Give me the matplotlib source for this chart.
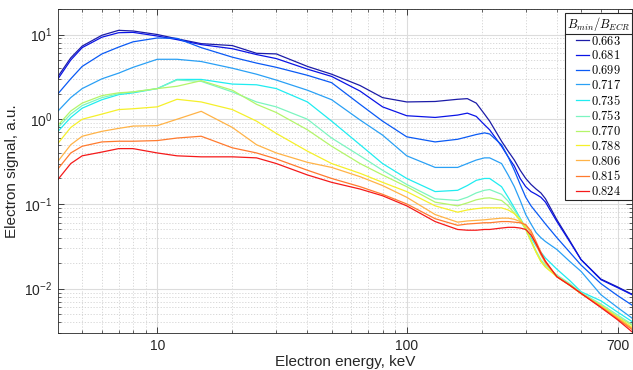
import numpy as np
import matplotlib
matplotlib.use('Agg')
import matplotlib.pyplot as plt
from matplotlib.font_manager import FontProperties
from matplotlib.lines import Line2D
from matplotlib.ticker import FixedLocator, NullFormatter, LogLocator

plt.rcParams['font.family'] = ['Liberation Sans', 'DejaVu Sans']
plt.rcParams['mathtext.fontset'] = 'custom'
plt.rcParams['mathtext.rm'] = 'Liberation Sans'
plt.rcParams['mathtext.it'] = 'Liberation Sans:italic'

# energy grid, keV
energy = [4, 4.5, 5, 6, 7, 8, 10, 12, 15, 20, 25, 30, 40, 50, 65, 80, 100, 130,
          160, 175, 190, 205, 215, 240, 255, 270, 285, 300, 315, 330, 345, 360,
          400, 450, 500, 600, 700, 800]

b_ratio = ['0.663', '0.681', '0.699', '0.717', '0.735', '0.753',
           '0.770', '0.788', '0.806', '0.815', '0.824']

s_0663 = [3.2, 5.3, 7.3, 9.8, 11.2, 11.0, 10.0, 8.9, 7.8, 7.4, 6.0, 5.9, 4.2, 3.4, 2.5, 1.8, 1.6, 1.62,
          1.72, 1.75, 1.55, 1.15, 0.95, 0.55, 0.42, 0.33, 0.25, 0.2, 0.17, 0.15, 0.135, 0.115,
          0.065, 0.037, 0.022, 0.013, 0.0105, 0.0086]
s_0681 = [3.0, 5.0, 7.0, 9.3, 10.5, 10.6, 9.6, 8.7, 7.6, 6.8, 5.8, 5.2, 3.9, 3.2, 2.15, 1.4, 1.1, 1.05,
          1.12, 1.18, 1.08, 0.86, 0.75, 0.48, 0.36, 0.28, 0.2, 0.16, 0.14, 0.13, 0.12, 0.105,
          0.062, 0.036, 0.022, 0.0128, 0.0103, 0.0085]
s_0699 = [2.0, 3.0, 4.2, 5.9, 7.1, 8.2, 9.1, 9.0, 7.0, 5.4, 4.6, 4.1, 3.3, 2.7, 1.5, 0.95, 0.62, 0.54,
          0.58, 0.62, 0.66, 0.69, 0.67, 0.5, 0.36, 0.25, 0.17, 0.12, 0.095, 0.08, 0.068, 0.058,
          0.04, 0.027, 0.019, 0.0115, 0.0083, 0.0064]
s_0717 = [1.25, 1.8, 2.3, 3.0, 3.5, 4.1, 5.1, 5.1, 4.8, 4.0, 3.4, 2.9, 2.2, 1.7, 0.98, 0.65, 0.37, 0.27,
          0.27, 0.3, 0.33, 0.35, 0.35, 0.3, 0.22, 0.16, 0.11, 0.075, 0.058, 0.046, 0.04, 0.036,
          0.029, 0.021, 0.016, 0.0085, 0.006, 0.0045]
s_0735 = [0.72, 1.05, 1.35, 1.7, 1.95, 2.05, 2.3, 2.95, 2.95, 2.6, 2.55, 2.3, 1.6, 0.95, 0.5, 0.3, 0.2, 0.14,
          0.145, 0.165, 0.19, 0.2, 0.2, 0.16, 0.12, 0.09, 0.068, 0.052, 0.04, 0.032, 0.027, 0.023,
          0.017, 0.0125, 0.0092, 0.0072, 0.0053, 0.0041]
s_0753 = [0.8, 1.15, 1.45, 1.8, 2.0, 2.1, 2.3, 2.9, 2.8, 2.1, 1.6, 1.4, 1.0, 0.6, 0.37, 0.25, 0.17, 0.115,
          0.11, 0.12, 0.135, 0.145, 0.148, 0.13, 0.108, 0.085, 0.066, 0.05, 0.037, 0.028, 0.022, 0.019,
          0.0145, 0.0115, 0.009, 0.0066, 0.0049, 0.0038]
s_0770 = [0.85, 1.25, 1.55, 1.9, 2.05, 2.1, 2.3, 2.45, 2.85, 2.2, 1.5, 1.2, 0.75, 0.48, 0.3, 0.22, 0.16, 0.105,
          0.095, 0.103, 0.112, 0.117, 0.118, 0.11, 0.095, 0.078, 0.063, 0.05, 0.036, 0.027, 0.021, 0.018,
          0.014, 0.0112, 0.0088, 0.0064, 0.0047, 0.0037]
s_0788 = [0.52, 0.8, 1.0, 1.15, 1.3, 1.33, 1.4, 1.72, 1.6, 1.3, 0.95, 0.68, 0.42, 0.3, 0.23, 0.18, 0.14, 0.095,
          0.08, 0.085, 0.088, 0.09, 0.09, 0.09, 0.085, 0.077, 0.066, 0.052, 0.037, 0.027, 0.021, 0.018,
          0.0138, 0.011, 0.0087, 0.0063, 0.0046, 0.0035]
s_0806 = [0.32, 0.5, 0.63, 0.72, 0.78, 0.83, 0.84, 1.0, 1.24, 0.8, 0.5, 0.4, 0.31, 0.27, 0.21, 0.165, 0.12, 0.075,
          0.061, 0.063, 0.064, 0.065, 0.066, 0.068, 0.068, 0.066, 0.062, 0.056, 0.045, 0.033, 0.025, 0.02,
          0.014, 0.011, 0.0088, 0.0062, 0.0045, 0.0034]
s_0815 = [0.26, 0.4, 0.48, 0.54, 0.55, 0.55, 0.56, 0.6, 0.63, 0.46, 0.4, 0.34, 0.25, 0.2, 0.16, 0.13, 0.1, 0.067,
          0.056, 0.058, 0.059, 0.06, 0.06, 0.062, 0.062, 0.061, 0.06, 0.057, 0.048, 0.036, 0.027, 0.021,
          0.0138, 0.011, 0.0088, 0.0061, 0.0044, 0.0033]
s_0824 = [0.195, 0.3, 0.37, 0.41, 0.45, 0.45, 0.4, 0.37, 0.36, 0.36, 0.35, 0.3, 0.22, 0.18, 0.15, 0.125, 0.095, 0.062,
          0.05, 0.049, 0.049, 0.05, 0.05, 0.052, 0.053, 0.053, 0.052, 0.05, 0.043, 0.034, 0.026, 0.021,
          0.0138, 0.011, 0.0088, 0.006, 0.0043, 0.0031]

signals = [s_0663, s_0681, s_0699, s_0717, s_0735, s_0753, s_0770, s_0788, s_0806, s_0815, s_0824]

colors = ['#1c1ca8', '#0a14e6', '#0a5af5', '#2aa0f5', '#20ecf0', '#7cf5c0',
          '#b4f56a', '#f5f02a', '#ffb347', '#ff7a2e', '#f51a1a']

fig = plt.figure(figsize=(6.33, 3.70), dpi=100)
ax = fig.add_axes([58/633, 1-333/370, 574/633, 324/370])

for lab, sig, c in zip(b_ratio, signals, colors):
    ax.plot(energy, sig, color=c, lw=0.9, label='$' + lab + '$')

ax.set_xscale('log')
ax.set_yscale('log')
ax.set_xlim(4, 800)
ax.set_ylim(0.003, 20)

ax.xaxis.set_major_locator(FixedLocator([10, 100, 700]))
ax.set_xticklabels(['10', '100', '700'])
minor_x = [5, 6, 7, 8, 9] + [k * 10 for k in range(2, 10)] + [200, 300, 400, 500, 600, 800]
ax.xaxis.set_minor_locator(FixedLocator(minor_x))
ax.xaxis.set_minor_formatter(NullFormatter())

ax.yaxis.set_major_locator(FixedLocator([1e-2, 1e-1, 1e0, 1e1]))
ax.set_yticklabels([r'$\mathregular{10^{-2}}$', r'$\mathregular{10^{-1}}$',
                    r'$\mathregular{10^{0}}$', r'$\mathregular{10^{1}}$'])
ax.yaxis.set_minor_locator(LogLocator(base=10, subs=np.arange(2, 10), numticks=20))
ax.yaxis.set_minor_formatter(NullFormatter())

ax.grid(True, which='major', color='#dcdcdc', lw=0.8, ls='-')
ax.grid(True, which='minor', color='#d2d2d2', lw=0.6, ls=(0, (1.5, 2)))
ax.set_axisbelow(True)

ax.tick_params(which='both', direction='in', top=True, right=True, color='#262626',
               labelsize=10, labelcolor='#262626')
ax.tick_params(which='major', length=4, width=0.6, pad=4)
ax.tick_params(which='minor', length=2.2, width=0.5)
for s in ax.spines.values():
    s.set_color('#262626')
    s.set_linewidth(0.6)

ax.set_xlabel('Electron energy, keV', fontsize=11, color='#262626', labelpad=2)
ax.set_ylabel('Electron signal, a.u.', fontsize=11, color='#262626', labelpad=4)

lp = FontProperties(family='DejaVu Serif', size=9, math_fontfamily='cm')
leg = ax.legend(loc='upper right', bbox_to_anchor=(1.0, 0.988), borderaxespad=0,
                prop=lp, fancybox=False, edgecolor='#262626', framealpha=1,
                handlelength=1.1, handletextpad=0.15, labelspacing=0.14,
                borderpad=0.15)
leg.set_title(r'$B_{min}/B_{ECR}$', prop=lp)
leg.get_frame().set_linewidth(0.8)

# separator line below the legend title
fig.canvas.draw()
inv = fig.transFigure.inverted()
lb = leg.get_window_extent()
tb = leg.get_title().get_window_extent()
ysep = tb.y0 - 1
p0 = inv.transform((lb.x0, ysep))
p1 = inv.transform((lb.x1, ysep))
fig.add_artist(Line2D([p0[0], p1[0]], [p0[1], p1[1]], color='#262626', lw=0.8))

fig.savefig('out.png', dpi=100)
